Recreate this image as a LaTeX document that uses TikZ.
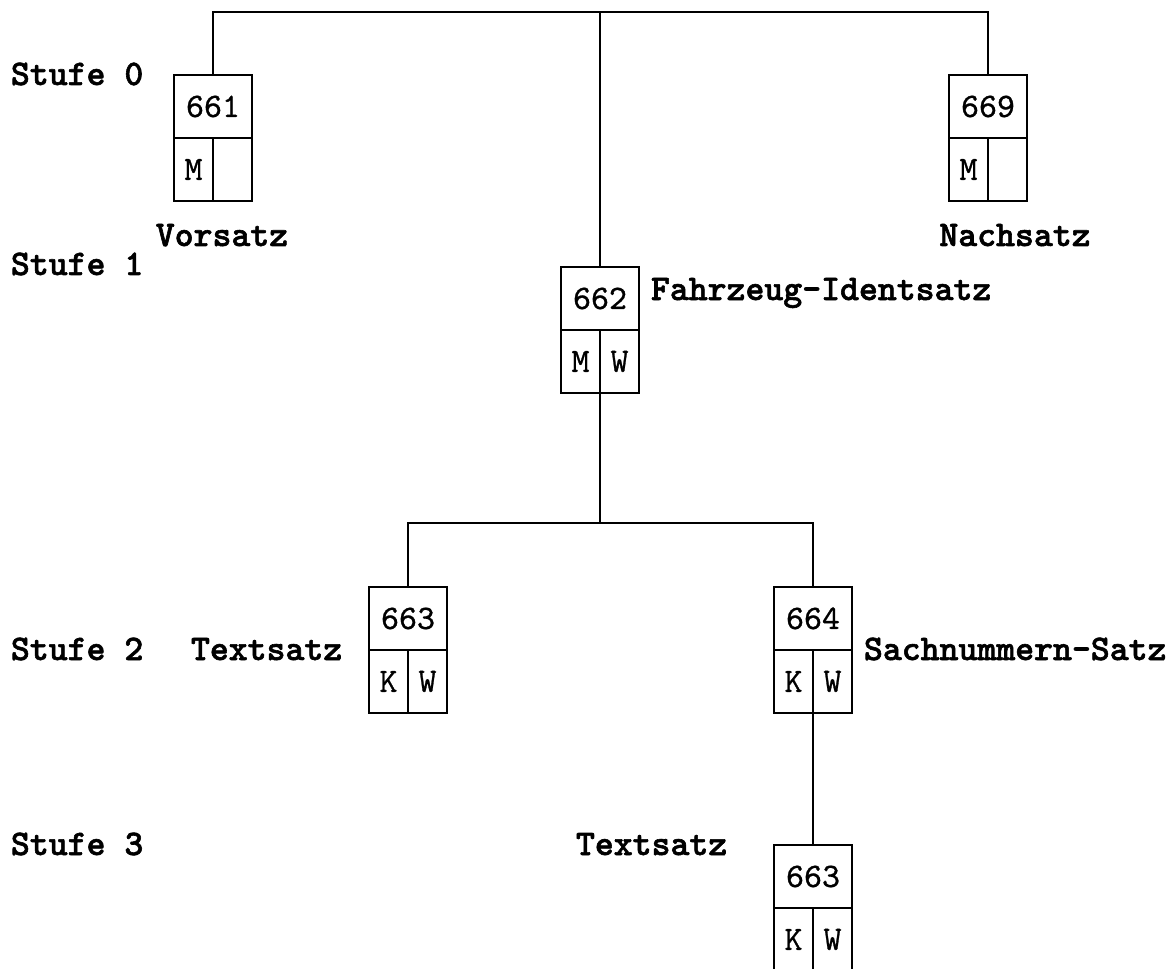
\documentclass[tikz,border=0pt]{standalone}
\usepackage{fontspec}
\newfontfamily\labfont{lmmonolt10-bold.otf}[FakeBold=1.6]
\newfontfamily\boxfont{lmmono10-regular.otf}[FakeBold=0.8]
\begin{document}
\begin{tikzpicture}[
    x=0.02cm, y=-0.02cm,
    line width=1.25pt,
    lab/.style={font=\labfont\fontsize{20.5}{22}\selectfont},
    head/.style={draw, inner sep=0pt, outer sep=0pt, minimum width=1.56cm,
                 minimum height=1.26cm, font=\boxfont\fontsize{19.5}{21}\selectfont},
    cell/.style={draw, inner sep=0pt, outer sep=0pt, minimum width=0.78cm,
                 minimum height=1.26cm, font=\boxfont\fontsize{19.5}{21}\selectfont},
]
\useasboundingbox (0,0) rectangle (1175,969);
\clip (0,0) rectangle (1175,969);

% the record boxes: number on top, two marks below
\foreach \id/\num/\x/\y/\l/\r in {a/661/213/75/M/{}, b/669/988/75/M/{},
                                  c/662/600/267/M/W, d/663/408/587/K/W,
                                  e/664/813/587/K/W, f/663/813/845/K/W}{
    \node[head, anchor=north] (b\id) at (\x,\y) {\num};
    \node[cell, anchor=north east] (b\id l) at (b\id.south) {\l};
    \node[cell, anchor=north west] (b\id r) at (b\id.south) {\r};
}

% levels
\node[lab, anchor=base west] (stufe0) at (4,85) {Stufe 0};
\node[lab, anchor=base west] (stufe1) at (4,275) {Stufe 1};
\node[lab, anchor=base west] (stufe2) at (4,660) {Stufe 2};
\node[lab, anchor=base west] (stufe3) at (4,855) {Stufe 3};

% record names
\node[lab, anchor=base] (vorsatz) at (222,246) {Vorsatz};
\node[lab, anchor=base] (nachsatz) at (1015,246) {Nachsatz};
\node[lab, anchor=base west] (ident) at (644,300) {Fahrzeug-Identsatz};
\node[lab, anchor=base west] (text1) at (184,660) {Textsatz};
\node[lab, anchor=base west] (sachnr) at (857,660) {Sachnummern-Satz};
\node[lab, anchor=base west] (text2) at (569,855) {Textsatz};

% tree lines
\coordinate (top) at (600,12);
\coordinate (fork) at (600,523);
\draw (ba.north) |- (top) -| (bb.north);
\draw (top) -- (bc.north);
\draw (bcl.south east) -- (fork);
\draw (bd.north) |- (fork) -| (be.north);
\draw (bel.south east) -- (bf.north);
\end{tikzpicture}
\end{document}
